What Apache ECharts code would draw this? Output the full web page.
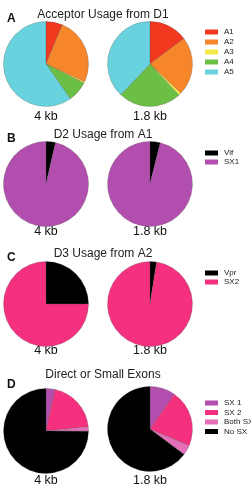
<!DOCTYPE html>
<html>
<head>
<meta charset="utf-8">
<script src="https://cdn.jsdelivr.net/npm/echarts@6/dist/echarts.min.js"></script>
<style>html,body{margin:0;padding:0;background:#fff}#c{width:251px;height:486px}</style>
</head>
<body>
<div id="c"></div>
<script>
// Panel titles and pie labels
const panelTitles = ['Acceptor Usage from D1', 'D2 Usage from A1', 'D3 Usage from A2', 'Direct or Small Exons'];
const panelLetters = ['A', 'B', 'C', 'D'];
const pieLabels = ['4 kb', '1.8 kb'];

// Panel A
const catsA = ['A1', 'A2', 'A3', 'A4', 'A5'];
const colorsA = ['#f2381f', '#f7862a', '#f5e84a', '#6cbf45', '#69d2df'];
const valsA4kb = [6.3, 25.6, 0.6, 7.8, 59.7];
const valsA18kb = [14.7, 22.4, 1.0, 24.0, 37.9];

// Panel B
const catsB = ['Vif', 'SX1'];
const colorsB = ['#000000', '#b24fae'];
const valsB4kb = [3.6, 96.4];
const valsB18kb = [3.9, 96.1];

// Panel C
const catsC = ['Vpr', 'SX2'];
const colorsC = ['#000000', '#f5307f'];
const valsC4kb = [25, 75];
const valsC18kb = [2.5, 97.5];

// Panel D
const catsD = ['SX 1', 'SX 2', 'Both SX', 'No SX'];
const colorsD = ['#b24fae', '#f5307f', '#e56fb9', '#000000'];
const valsD4kb = [3.4, 20.0, 1.7, 74.9];
const valsD18kb = [9.7, 21.7, 3.8, 64.8];

const panels = [
  {cats: catsA, colors: colorsA, vals: [valsA4kb, valsA18kb], cy: [64, 64], titleY: 15, labelY: 117, legendY: 28, gap: 2},
  {cats: catsB, colors: colorsB, vals: [valsB4kb, valsB18kb], cy: [184, 184], titleY: 135, labelY: 232, legendY: 149, gap: 1},
  {cats: catsC, colors: colorsC, vals: [valsC4kb, valsC18kb], cy: [304, 304], titleY: 254, labelY: 351, legendY: 269, gap: 1},
  {cats: catsD, colors: colorsD, vals: [valsD4kb, valsD18kb], cy: [431, 429], titleY: 375, labelY: 481, legendY: 399, gap: 1.5}
];
const cx = [46, 150];
const R = 42.5;

const series = [];
const legends = [];
const graphics = [];
const font = 'Liberation Sans, Arial, sans-serif';

panels.forEach((p, pi) => {
  for (let k = 0; k < 2; k++) {
    series.push({
      type: 'pie',
      center: [cx[k], p.cy[k]],
      radius: R,
      startAngle: 90,
      clockwise: true,
      silent: true,
      animation: false,
      label: {show: false},
      labelLine: {show: false},
      itemStyle: {borderColor: 'rgba(70,70,70,0.5)', borderWidth: 0.5},
      data: p.cats.map((c, i) => ({name: c, value: p.vals[k][i], itemStyle: {color: p.colors[i]}}))
    });
    graphics.push({
      type: 'text', silent: true,
      style: {text: pieLabels[k], x: cx[k], y: p.labelY, font: '12.5px ' + font, fill: '#111', textAlign: 'center', textVerticalAlign: 'middle'}
    });
  }
  legends.push({
    orient: 'vertical', left: 205, top: p.legendY,
    itemWidth: 13, itemHeight: 5, itemGap: p.gap,
    icon: 'rect',
    selectedMode: false,
    data: p.cats,
    itemStyle: {borderWidth: 0},
    textStyle: {fontSize: 8, lineHeight: 8, color: '#222', fontFamily: font, padding: [0, 0, 0, 1]},
    padding: 0
  });
  graphics.push({
    type: 'text', silent: true,
    style: {text: panelTitles[pi], x: 103, y: p.titleY, font: '12px ' + font, fill: '#222', textAlign: 'center', textVerticalAlign: 'middle'}
  });
  graphics.push({
    type: 'text', silent: true,
    style: {text: panelLetters[pi], x: 7, y: p.titleY + (pi === 3 ? 10 : 4), font: 'bold 12px ' + font, fill: '#111', textAlign: 'left', textVerticalAlign: 'middle'}
  });
});

const chart = echarts.init(document.getElementById('c'), null, {renderer: 'canvas'});
chart.setOption({
  animation: false,
  legend: legends,
  series: series,
  graphic: {elements: graphics}
});
</script>
</body>
</html>
